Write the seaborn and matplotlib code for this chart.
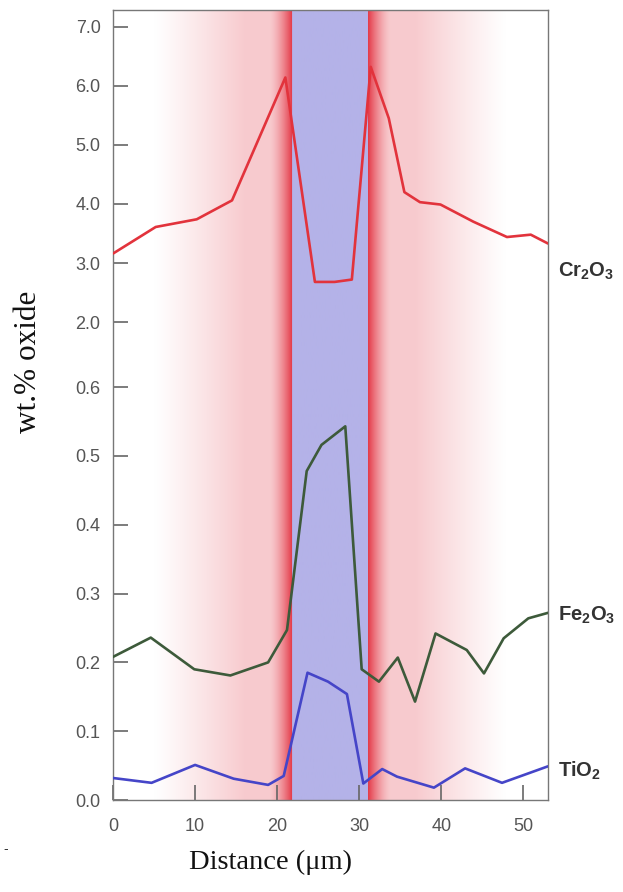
import numpy as np
import pandas as pd
import matplotlib
matplotlib.use("Agg")
import matplotlib.pyplot as plt
import seaborn as sns

# ---------------- data ----------------
cr_x = [0, 5.2, 10.2, 14.5, 21.0, 24.6, 27.0, 29.1, 31.4, 33.6, 35.5, 37.4, 39.9, 43.9, 48.0, 50.9, 53.0]
cr_y = [3.16, 3.61, 3.74, 4.06, 6.14, 2.68, 2.68, 2.72, 6.32, 5.45, 4.20, 4.03, 3.99, 3.70, 3.44, 3.48, 3.33]

fe_x = [0, 4.6, 9.9, 14.3, 18.9, 21.2, 23.6, 25.4, 28.3, 30.3, 32.4, 34.7, 36.8, 39.3, 43.1, 45.2, 47.6, 50.6, 53.0]
fe_y = [0.208, 0.236, 0.190, 0.181, 0.200, 0.247, 0.478, 0.516, 0.543, 0.190, 0.172, 0.207, 0.143, 0.242, 0.218, 0.184, 0.235, 0.264, 0.272]

ti_x = [0, 4.7, 10.0, 14.7, 18.9, 20.8, 23.7, 26.2, 28.5, 30.5, 32.8, 34.6, 39.1, 42.9, 47.4, 53.0]
ti_y = [0.032, 0.025, 0.051, 0.031, 0.022, 0.035, 0.185, 0.172, 0.154, 0.024, 0.045, 0.034, 0.018, 0.046, 0.025, 0.049]

oxides = ["Cr2O3", "Fe2O3", "TiO2"]
oxide_labels = [r"Cr$_\mathregular{2}$O$_\mathregular{3}$", r"Fe$_\mathregular{2}$O$_\mathregular{3}$", r"TiO$_\mathregular{2}$"]
oxide_colors = ["#e2333c", "#3d5a3a", "#4545c8"]

band_x = [21.8, 31.0]   # inclusion (blue band) limits, µm

y_ticks = [0.0, 0.1, 0.2, 0.3, 0.4, 0.5, 0.6, 2.0, 3.0, 4.0, 5.0, 6.0, 7.0]
x_ticks = [0, 10, 20, 30, 40, 50]

# ---------------- figure ----------------
sns.set_theme(style="white")
plt.rcParams["font.family"] = ["Liberation Sans", "DejaVu Sans"]
plt.rcParams["mathtext.default"] = "regular"

fig = plt.figure(figsize=(6.23, 8.92), dpi=100)
ax = fig.add_axes([0.1814, 0.1031, 0.6982, 0.8862])

# piecewise (broken-style) y scale
yp_v = [0.0, 0.6, 2.0, 7.3]
yp_p = [0.0, 413.0, 478.0, 791.2]
def fwd(v):
    return np.interp(v, yp_v, yp_p)
def inv(p):
    return np.interp(p, yp_p, yp_v)
ax.set_yscale("function", functions=(fwd, inv))

# background: red diffusion halo + blue band
xs = np.linspace(0, 53, 1600)
d = np.where(xs < band_x[0], band_x[0] - xs, np.where(xs > band_x[1], xs - band_x[1], 0.0))
inside = (xs >= band_x[0]) & (xs <= band_x[1])
alpha = 0.25 * np.clip((16.8 - d) / 11.0, 0, 1) ** 1.1 + 0.70 * np.clip(1 - d / 2.8, 0, 1) ** 1.5
alpha = np.clip(alpha, 0, 1)
red = np.array([226, 45, 60]) / 255.0
img = np.ones((1, xs.size, 3))
img[0] = 1 - alpha[:, None] * (1 - red[None, :])
img[0, inside] = np.array([180, 178, 232]) / 255.0
ax.imshow(img, extent=(0, 53, 0, 1), transform=ax.get_xaxis_transform(),
          aspect="auto", interpolation="bilinear", zorder=0)

# lines
df = pd.concat([
    pd.DataFrame({"dist": cr_x, "wt": cr_y, "oxide": oxides[0]}),
    pd.DataFrame({"dist": fe_x, "wt": fe_y, "oxide": oxides[1]}),
    pd.DataFrame({"dist": ti_x, "wt": ti_y, "oxide": oxides[2]}),
], ignore_index=True)
sns.lineplot(data=df, x="dist", y="wt", hue="oxide", palette=dict(zip(oxides, oxide_colors)),
             estimator=None, sort=False, legend=False, linewidth=1.9, ax=ax, zorder=3)

ax.set_xlim(0, 53)
ax.set_ylim(0, 7.29)
ax.set_yticks(y_ticks)
ax.set_yticklabels([f"{t:.1f}" for t in y_ticks])
ax.set_xticks(x_ticks)
ax.set_xticklabels([str(t) for t in x_ticks])
ax.minorticks_off()

ax.tick_params(axis="both", direction="in", length=11, width=1.2, color="#666666",
               labelsize=13, labelcolor="#555555", bottom=True, left=True)
ax.tick_params(axis="y", pad=9)
ax.tick_params(axis="x", pad=13)
for s in ax.spines.values():
    s.set_color("#777777")
    s.set_linewidth(1.0)

serif = ["Liberation Serif", "DejaVu Serif"]
ax.set_xlabel("Distance (μm)", family=serif, fontsize=20.5, color="#111111")
ax.set_ylabel("wt.% oxide", family=serif, fontsize=22.5, color="#111111")
ax.xaxis.set_label_coords(0.363, -0.063)
ax.yaxis.set_label_coords(-0.16, 0.554)

# end labels
last_vals = [cr_y[-1], fe_y[-1], ti_y[-1]]
label_dy = [-20, -2, -3]
for lab, v, dy in zip(oxide_labels, last_vals, label_dy):
    ax.annotate(lab, xy=(53, v), xytext=(7, dy), textcoords="offset points",
                ha="left", va="center", fontsize=14.5, fontweight="bold", color="#333333",
                annotation_clip=False)

fig.text(0.006, 0.044, "-", fontsize=10, color="#333333")

fig.savefig("out.png", dpi=100)
